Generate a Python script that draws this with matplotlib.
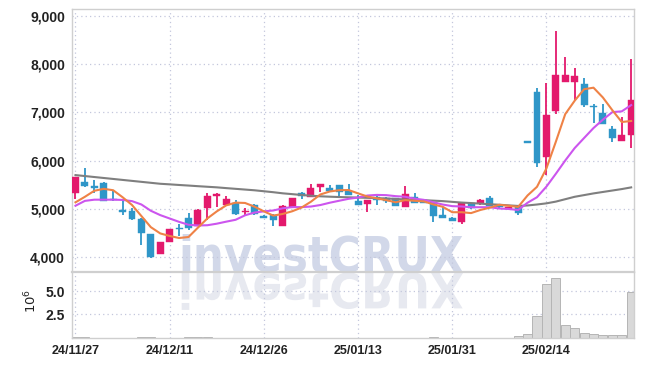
import matplotlib
matplotlib.use('Agg')
import matplotlib.pyplot as plt
import numpy as np
from matplotlib.textpath import TextPath
from matplotlib.patches import PathPatch
from matplotlib.font_manager import FontProperties
from matplotlib.transforms import Affine2D

# ---------------- data ----------------
opens = [5322, 5556, 5445, 5542, 5180, 4945, 4954, 4782, 4477, 4056,
         4305, 4585, 4803, 4643, 5010, 5266, 5079, 5127, 4935, 5079,
         4851, 4871, 4650, 5044, 5322, 5239, 5459, 5425, 5487, 5369,
         5162, 5093, 5252, 5231, 5218, 5030, 5239, 5183, 5148, 4871,
         4816, 4720, 5114, 5114, 5218, 5050, 5005, 5044, 6375, 7430,
         6081, 7035, 7637, 7627, 7589, 7110, 6981, 6649, 6413, 6538]
highs = [5666, 5840, 5598, 5550, 5400, 5197, 5023, 4800, 4477, 4311,
         4590, 4685, 4906, 4990, 5322, 5322, 5266, 5183, 5010, 5100,
         4880, 4900, 5070, 5218, 5340, 5515, 5515, 5494, 5487, 5508,
         5286, 5183, 5260, 5240, 5218, 5480, 5320, 5200, 5148, 5044,
         4830, 5114, 5130, 5200, 5266, 5080, 5040, 5044, 6375, 7500,
         7604, 8695, 8156, 7915, 7707, 7174, 7168, 6718, 6898, 8102]
lows = [5200, 5459, 5322, 5165, 5170, 4871, 4768, 4249, 3973, 4056,
        4305, 4436, 4560, 4643, 4768, 5044, 5079, 4870, 4871, 4880,
        4800, 4643, 4650, 5020, 5197, 5239, 5356, 5369, 5218, 5286,
        5079, 4940, 5079, 5120, 5065, 5030, 5114, 5114, 4720, 4816,
        4747, 4685, 5000, 5080, 5058, 5000, 4975, 4880, 6370, 5860,
        5701, 6967, 7637, 7257, 7106, 6774, 6753, 6380, 6413, 6266]
closes = [5666, 5480, 5440, 5170, 5175, 4940, 4788, 4504, 4006, 4311,
          4575, 4580, 4608, 4975, 5266, 5307, 5204, 4892, 4940, 4886,
          4816, 4768, 5058, 5218, 5272, 5425, 5515, 5369, 5356, 5286,
          5079, 5183, 5183, 5168, 5065, 5307, 5114, 5114, 4858, 4816,
          4747, 5114, 5023, 5183, 5058, 5044, 5010, 4906, 6370, 5956,
          6946, 7776, 7776, 7755, 7154, 7106, 6753, 6463, 6531, 7257]
volumes_m = [0.05, 0.05, 0.01, 0.01, 0.01, 0.01, 0.01, 0.05, 0.05, 0.01,
             0.01, 0.01, 0.05, 0.05, 0.05, 0.01, 0.01, 0.01, 0.01, 0.01,
             0.01, 0.01, 0.01, 0.01, 0.01, 0.01, 0.01, 0.01, 0.01, 0.01,
             0.01, 0.01, 0.01, 0.01, 0.01, 0.01, 0.01, 0.01, 0.05, 0.01,
             0.01, 0.01, 0.01, 0.01, 0.01, 0.01, 0.01, 0.17, 0.39, 2.32,
             5.75, 6.40, 1.35, 1.03, 0.49, 0.39, 0.25, 0.25, 0.25, 4.93]
ma5 = [5135, 5250, 5375, 5415, 5386, 5241, 5080, 4850, 4620, 4490,
       4437, 4395, 4416, 4610, 4801, 4947, 5072, 5129, 5122, 5046,
       4948, 4860, 4894, 4949, 5026, 5148, 5298, 5360, 5387, 5390,
       5321, 5255, 5217, 5180, 5136, 5181, 5167, 5154, 5092, 5042,
       4930, 4930, 4912, 4977, 5025, 5084, 5064, 5040, 5278, 5457,
       5838, 6391, 6965, 7242, 7481, 7513, 7309, 7046, 6801, 6822]
ma10 = [5065, 5165, 5190, 5190, 5190, 5185, 5160, 5090, 4960, 4870,
        4800, 4730, 4670, 4655, 4660, 4692, 4734, 4773, 4866, 4923,
        4948, 4966, 5011, 5036, 5036, 5048, 5079, 5127, 5168, 5208,
        5235, 5276, 5289, 5284, 5263, 5251, 5211, 5186, 5136, 5089,
        5056, 5049, 5033, 5034, 5033, 5007, 4997, 4976, 5127, 5241,
        5461, 5727, 6003, 6260, 6469, 6676, 6850, 7006, 7022, 7152]
ma60 = [5700, 5680, 5660, 5640, 5620, 5600, 5580, 5560, 5540, 5520,
        5508, 5495, 5483, 5470, 5458, 5446, 5430, 5415, 5400, 5385,
        5365, 5345, 5322, 5305, 5288, 5272, 5260, 5252, 5245, 5239,
        5234, 5228, 5222, 5215, 5205, 5195, 5185, 5180, 5170, 5160,
        5145, 5130, 5120, 5108, 5095, 5085, 5072, 5060, 5070, 5090,
        5114, 5150, 5200, 5250, 5285, 5320, 5350, 5380, 5410, 5445]
tick_idx = [0, 10, 20, 30, 40, 50]
tick_labels = ['24/11/27', '24/12/11', '24/12/26', '25/01/13', '25/01/31', '25/02/14']
price_ticks = [4000, 5000, 6000, 7000, 8000, 9000]
vol_ticks = [2.5, 5.0]

# ---------------- style ----------------
plt.rcParams['font.family'] = ['Liberation Sans', 'DejaVu Sans']
UP = '#e3196c'
DOWN = '#2f96c8'
C_MA5 = '#ef8246'
C_MA10 = '#cc55ee'
C_MA60 = '#7f7f7f'
GRID = '#c3c7dc'
SPINE = '#cfcfcf'
TXT = '#222222'

W, H = 645, 366
fig = plt.figure(figsize=(W / 100, H / 100), dpi=100)
fig.patch.set_facecolor('white')
L, R = 72 / W, 634 / W
ax = fig.add_axes([L, 1 - 272 / H, R - L, (272 - 9) / H])
axv = fig.add_axes([L, 1 - 337.6 / H, R - L, (337.6 - 272) / H], sharex=ax)
for a in (ax, axv):
    a.set_facecolor('none')
    a.set_axisbelow(True)
    for s in a.spines.values():
        s.set_color(SPINE)
        s.set_linewidth(1.0)
ax.spines['bottom'].set_linewidth(1.6)
axv.spines['top'].set_visible(False)

# ---------------- watermark (real text + mirrored reflection) ----------------
wm_font = FontProperties(family='DejaVu Sans', weight='bold', stretch='condensed')
x_left, x_right = 178, 464
base_y = 271.5
wm = fig.text(x_left / W, 1 - base_y / H, 'investCRUX', fontproperties=wm_font,
              fontsize=36, color='#d2d8e9', ha='left', va='baseline', zorder=-5)
fig.canvas.draw()
wpx = wm.get_window_extent().width
fs = 36 * (x_right - x_left) / wpx
wm.set_fontsize(fs)
tp = TextPath((0, 0), 'investCRUX', size=fs, prop=wm_font)
t_refl = Affine2D().scale(100 / 72, -100 / 72).translate(x_left, H - 273.0)
fig.add_artist(PathPatch(tp, transform=t_refl, facecolor='#e7e9f0',
                         edgecolor='none', zorder=-5))

# ---------------- candles ----------------
x = np.arange(len(closes))
o = np.array(opens, float); c = np.array(closes, float)
hi = np.array(highs, float); lo = np.array(lows, float)
cols = [UP if cc > oo else DOWN for oo, cc in zip(o, c)]
bottoms = np.minimum(o, c)
heights = np.maximum(np.abs(c - o), 30)
ax.vlines(x, lo, hi, colors=cols, linewidth=1.3, zorder=2)
ax.bar(x, heights, bottom=bottoms, width=0.74, color=cols, edgecolor=cols,
       linewidth=0.3, zorder=3)

ax.plot(x, ma60, color=C_MA60, lw=1.5, zorder=4)
ax.plot(x, ma10, color=C_MA10, lw=1.5, zorder=4)
ax.plot(x, ma5, color=C_MA5, lw=1.5, zorder=4)

ax.set_xlim(-0.37, 59.3)
ax.set_ylim(3690, 9145)
ax.set_yticks(price_ticks)
ax.set_yticklabels([f'{v:,}' for v in price_ticks])
ax.set_xticks(tick_idx)
ax.tick_params(axis='x', labelbottom=False, length=0)
ax.tick_params(axis='y', length=0, pad=5, labelsize=10, labelcolor=TXT)
ax.grid(True, linestyle=(0, (1, 2.5)), color=GRID, linewidth=0.9)

# ---------------- volume ----------------
axv.bar(x, volumes_m, width=0.96, color='#d9d9d9', edgecolor='#b5b5b5',
        linewidth=0.7, zorder=2)
axv.set_ylim(0, 7.04)
axv.set_yticks(vol_ticks)
axv.set_yticklabels([f'{v:.1f}' for v in vol_ticks])
axv.set_xticks(tick_idx)
axv.set_xticklabels(tick_labels)
axv.tick_params(axis='x', length=0, pad=5, labelsize=9, labelcolor=TXT)
axv.tick_params(axis='y', length=0, pad=5, labelsize=10, labelcolor=TXT)
for lab in ax.get_yticklabels() + axv.get_yticklabels() + axv.get_xticklabels():
    lab.set_fontweight('bold')
axv.grid(True, linestyle=(0, (1, 2.5)), color=GRID, linewidth=0.9)

fig.text(31 / W, 1 - 301 / H, r'$10^6$', rotation=90, ha='center', va='center',
         fontsize=9.5, color=TXT)

fig.savefig('out.png', dpi=100, facecolor='white')
